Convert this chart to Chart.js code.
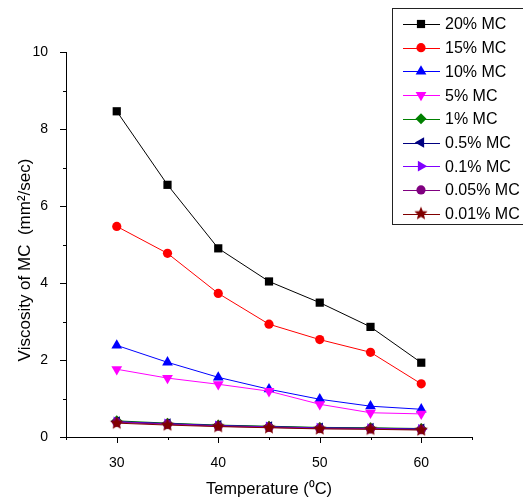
<!DOCTYPE html>
<html>
<head>
<meta charset="utf-8">
<script src="https://cdn.jsdelivr.net/npm/chart.js@4.4.1/dist/chart.umd.min.js"></script>
<style>
  html, body { margin: 0; padding: 0; background: #fff; }
  canvas { display: block; }
</style>
</head>
<body>
<canvas id="visc-chart" width="523" height="501"></canvas>
<script>
const temps = [30, 35, 40, 45, 50, 55, 60];
const xTicks = [30, 40, 50, 60];
const yTicks = [0, 2, 4, 6, 8, 10];

const mc20 = [8.46, 6.55, 4.90, 4.04, 3.49, 2.86, 1.93];
const mc15 = [5.47, 4.77, 3.73, 2.93, 2.53, 2.20, 1.38];
const mc10 = [2.38, 1.94, 1.55, 1.24, 0.98, 0.80, 0.72];
const mc5 = [1.76, 1.53, 1.37, 1.19, 0.85, 0.63, 0.60];
const mc1 = [0.42, 0.36, 0.31, 0.28, 0.25, 0.24, 0.22];
const mc05 = [0.40, 0.35, 0.30, 0.27, 0.24, 0.23, 0.21];
const mc01 = [0.39, 0.34, 0.29, 0.26, 0.23, 0.22, 0.20];
const mc005 = [0.38, 0.33, 0.28, 0.25, 0.22, 0.21, 0.19];
const mc001 = [0.36, 0.31, 0.27, 0.24, 0.21, 0.20, 0.18];

const seriesLabels = ['20% MC', '15% MC', '10% MC', '5% MC', '1% MC',
    '0.5% MC', '0.1% MC', '0.05% MC', '0.01% MC'];
const seriesValues = [mc20, mc15, mc10, mc5, mc1, mc05, mc01, mc005, mc001];

// filled five-point star, Chart.js only has the asterisk kind
function starImage(color, r) {
    const c = document.createElement('canvas');
    c.width = c.height = r * 2 + 2;
    const g = c.getContext('2d');
    g.fillStyle = color;
    g.beginPath();
    for (let i = 0; i < 10; i++) {
        const rad = i % 2 === 0 ? r : r * 0.45;
        const a = -Math.PI / 2 + i * Math.PI / 5;
        g.lineTo(r + 1 + rad * Math.cos(a), r + 1 + rad * Math.sin(a));
    }
    g.closePath();
    g.fill();
    return c;
}

const styles = [
    { color: '#000000', pointStyle: 'rect', radius: 5.8, rotation: 0 },
    { color: '#ff0000', pointStyle: 'circle', radius: 4.6, rotation: 0 },
    { color: '#0000ff', pointStyle: 'triangle', radius: 6.2, rotation: 0 },
    { color: '#ff00ff', pointStyle: 'triangle', radius: 6.2, rotation: 180 },
    { color: '#008000', pointStyle: 'rectRot', radius: 5.5, rotation: 0 },
    { color: '#000080', pointStyle: 'triangle', radius: 6.2, rotation: -90 },
    { color: '#8000ff', pointStyle: 'triangle', radius: 6.2, rotation: 90 },
    { color: '#800080', pointStyle: 'circle', radius: 4.6, rotation: 0 },
    { color: '#800000', pointStyle: starImage('#800000', 7), radius: 7, rotation: 0 },
];

// later series sit on top, so the lowest order goes to the last one
const datasets = seriesValues.map((vals, i) => ({
    label: seriesLabels[i],
    data: vals.map((v, j) => ({ x: temps[j], y: v })),
    order: seriesValues.length - 1 - i,
    borderColor: styles[i].color,
    backgroundColor: styles[i].color,
    borderWidth: 1,
    pointStyle: styles[i].pointStyle,
    pointRadius: styles[i].radius,
    pointRotation: styles[i].rotation,
    pointBorderWidth: 0,
    pointHoverRadius: styles[i].radius,
    tension: 0,
}));

const axisDecor = {
    id: 'axisDecor',
    afterDraw(chart) {
        const ctx = chart.ctx;
        const xs = chart.scales.x, ys = chart.scales.y;
        const left = chart.chartArea.left, bottom = chart.chartArea.bottom;
        ctx.save();
        ctx.strokeStyle = '#000';
        ctx.lineWidth = 1;
        ctx.beginPath();
        for (let v = 25; v <= 65; v += 5) {
            const px = Math.round(xs.getPixelForValue(v)) + 0.5;
            const len = v % 10 === 0 ? 6 : 3;
            ctx.moveTo(px, bottom);
            ctx.lineTo(px, bottom + len);
        }
        for (let v = 0; v <= 10; v += 1) {
            const py = Math.round(ys.getPixelForValue(v)) + 0.5;
            const len = v % 2 === 0 ? 6 : 3;
            ctx.moveTo(left, py);
            ctx.lineTo(left - len, py);
        }
        ctx.stroke();

        // axis titles
        ctx.fillStyle = '#000';
        ctx.font = '16.5px "Liberation Sans", Arial, sans-serif';
        ctx.textAlign = 'center';
        ctx.textBaseline = 'middle';
        ctx.fillText('Temperature (\u2070C)', (xs.left + xs.right) / 2, 489);
        ctx.translate(25, 260);
        ctx.rotate(-Math.PI / 2);
        ctx.font = '17px "Liberation Sans", Arial, sans-serif';
        ctx.fillText('Viscosity of MC  (mm\u00b2/sec)', 0, 0);
        ctx.restore();

        // legend box
        ctx.save();
        ctx.strokeStyle = '#222';
        ctx.lineWidth = 1;
        ctx.strokeRect(392.5, 8.5, 140, 216);
        ctx.font = '16px "Liberation Sans", Arial, sans-serif';
        ctx.textBaseline = 'middle';
        ctx.textAlign = 'left';
        seriesLabels.forEach((lbl, i) => {
            const y = 24 + i * 23.7;
            const st = styles[i];
            ctx.strokeStyle = st.color;
            ctx.fillStyle = st.color;
            ctx.beginPath();
            ctx.moveTo(403, Math.round(y) + 0.5);
            ctx.lineTo(440, Math.round(y) + 0.5);
            ctx.stroke();
            Chart.helpers.drawPoint(ctx, {
                pointStyle: st.pointStyle, radius: st.radius,
                rotation: st.rotation, borderWidth: 0,
            }, 421, y);
            ctx.fillStyle = '#000';
            ctx.fillText(lbl, 445, y + 1);
        });
        ctx.restore();
    }
};

const tickFont = { family: '"Liberation Sans", Arial, sans-serif', size: 14 };

new Chart(document.getElementById('visc-chart'), {
    type: 'line',
    data: { datasets },
    options: {
        responsive: false,
        animation: false,
        layout: { padding: { left: 0, top: 52, right: 51, bottom: 0 } },
        plugins: { legend: { display: false }, tooltip: { enabled: false } },
        scales: {
            x: {
                type: 'linear',
                min: 25,
                max: 65,
                afterBuildTicks: s => { s.ticks = xTicks.map(v => ({ value: v })); },
                afterFit: s => { s.height = 64; },
                grid: { display: false },
                border: { display: true, color: '#000', width: 1 },
                ticks: { color: '#000', font: tickFont, padding: 10, maxRotation: 0 },
            },
            y: {
                min: 0,
                max: 10,
                afterBuildTicks: s => { s.ticks = yTicks.map(v => ({ value: v })); },
                afterFit: s => { s.width = 66; },
                grid: { display: false },
                border: { display: true, color: '#000', width: 1 },
                ticks: { color: '#000', font: tickFont, padding: 10 },
            },
        },
    },
    plugins: [axisDecor],
});
</script>
</body>
</html>
